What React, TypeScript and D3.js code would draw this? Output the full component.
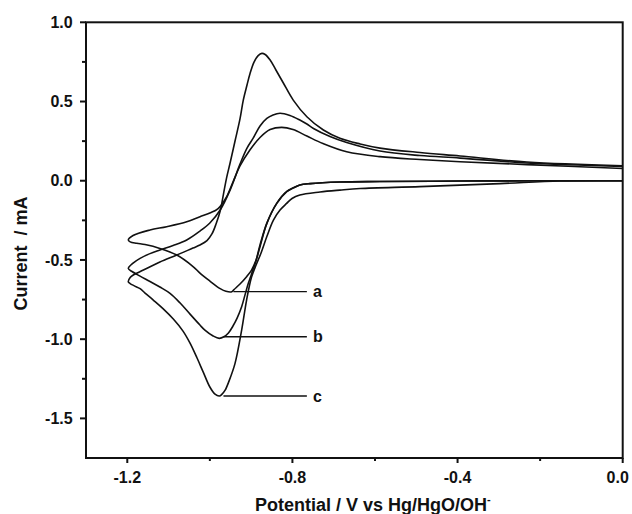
import React from "react";
import * as d3 from "d3";

// ---- Data ----
// Curve a : cathodic scan (0 -> -1.2 V) followed by anodic scan (-1.2 -> 0 V)
const potentialA = [0, -0.2, -0.394, -0.588, -0.685, -0.757, -0.782, -0.7985, -0.814, -0.838, -0.862, -0.8785, -0.888, -0.899, -0.911, -0.927, -0.9415, -0.947, -0.961, -0.975, -1.0, -1.024, -1.04, -1.08, -1.121, -1.157, -1.177, -1.193, -1.1975,
  -1.186, -1.145, -1.1045, -1.056, -1.024, -1.0, -0.98, -0.961, -0.944, -0.927, -0.903, -0.8785, -0.854, -0.826, -0.7985, -0.765, -0.726, -0.6685, -0.588, -0.491, -0.394, -0.232, 0];
const currentA = [0, 0, -0.002, -0.005, -0.008, -0.018, -0.027, -0.046, -0.069, -0.143, -0.269, -0.417, -0.501, -0.564, -0.606, -0.652, -0.687, -0.701, -0.698, -0.681, -0.633, -0.583, -0.543, -0.469, -0.427, -0.403, -0.395, -0.386, -0.374,
  -0.346, -0.311, -0.29, -0.259, -0.227, -0.204, -0.176, -0.109, -0.008, 0.093, 0.194, 0.273, 0.323, 0.337, 0.323, 0.282, 0.235, 0.183, 0.152, 0.134, 0.12, 0.102, 0.077];

// Curve b
const potentialB = [0, -0.2, -0.394, -0.588, -0.685, -0.757, -0.782, -0.7985, -0.814, -0.838, -0.862, -0.8785, -0.889, -0.896, -0.9015, -0.907, -0.915, -0.923, -0.934, -0.944, -0.955, -0.966, -0.977, -0.992, -1.012, -1.024, -1.048, -1.072, -1.0965, -1.121, -1.145, -1.169, -1.1885, -1.1975,
  -1.186, -1.169, -1.145, -1.121, -1.089, -1.056, -1.024, -1.0, -0.975, -0.951, -0.927, -0.91, -0.8947, -0.8785, -0.862, -0.847, -0.83, -0.806, -0.782, -0.765, -0.749, -0.709, -0.6685, -0.588, -0.491, -0.394, -0.232, 0];
const currentB = [0, 0, -0.002, -0.005, -0.008, -0.018, -0.027, -0.046, -0.069, -0.143, -0.269, -0.405, -0.513, -0.564, -0.608, -0.648, -0.722, -0.795, -0.867, -0.917, -0.961, -0.985, -0.995, -0.98, -0.943, -0.911, -0.842, -0.772, -0.711, -0.671, -0.636, -0.602, -0.573, -0.554,
  -0.52, -0.49, -0.46, -0.4375, -0.409, -0.374, -0.318, -0.267, -0.185, -0.059, 0.105, 0.206, 0.27, 0.345, 0.393, 0.415, 0.426, 0.412, 0.383, 0.358, 0.33, 0.279, 0.241, 0.1875, 0.159, 0.143, 0.112, 0.09];

// Curve c
const potentialC = [0, -0.152, -0.297, -0.491, -0.636, -0.685, -0.733, -0.782, -0.801, -0.814, -0.83, -0.846, -0.8615, -0.876, -0.888, -0.899, -0.911, -0.923, -0.939, -0.9536, -0.963, -0.9705, -0.977, -0.9875, -1.0, -1.016, -1.031, -1.048, -1.065, -1.0885, -1.1135, -1.137, -1.157, -1.169, -1.184, -1.193, -1.1975,
  -1.193, -1.1855, -1.161, -1.121, -1.08, -1.041, -1.024, -1.007, -0.995, -0.985, -0.975, -0.967, -0.9596, -0.951, -0.939, -0.927, -0.919, -0.91, -0.903, -0.893, -0.883, -0.874, -0.866, -0.854, -0.84, -0.822, -0.798, -0.765, -0.725, -0.685, -0.636, -0.588, -0.491, -0.394, -0.232, 0];
const currentC = [0, -0.002, -0.018, -0.037, -0.049, -0.059, -0.071, -0.09, -0.112, -0.143, -0.185, -0.248, -0.349, -0.456, -0.532, -0.608, -0.753, -0.943, -1.153, -1.265, -1.322, -1.347, -1.359, -1.347, -1.302, -1.208, -1.119, -1.025, -0.949, -0.873, -0.807, -0.753, -0.709, -0.681, -0.662, -0.649, -0.638,
  -0.611, -0.595, -0.564, -0.513, -0.469, -0.425, -0.406, -0.378, -0.336, -0.273, -0.191, -0.084, 0.017, 0.112, 0.251, 0.39, 0.509, 0.604, 0.674, 0.749, 0.79, 0.804, 0.797, 0.762, 0.699, 0.617, 0.509, 0.404, 0.32, 0.268, 0.232, 0.206, 0.178, 0.156, 0.118, 0.095];

// Curve labels (leader lines from the cathodic peaks)
const labelNames = ["a", "b", "c"];
const labelStartV = [-0.943, -0.967, -0.967];
const labelCurrent = [-0.70, -0.985, -1.359];
const labelEndV = -0.765;
const labelTextV = -0.75;

// Axis ticks
const xMajorTicks = [-1.2, -0.8, -0.4, 0.0];
const xMinorTicks = [-1.0, -0.6, -0.2];
const yMajorTicks = [1.0, 0.5, 0.0, -0.5, -1.0, -1.5];
const yMinorTicks = [0.75, 0.25, -0.25, -0.75, -1.25];

const xDomain = [-1.3, 0.0];
const yDomain = [-1.75, 1.0];

const FONT = "'Liberation Sans', Arial, Helvetica, sans-serif";

export default function App() {
  const W = 632, H = 514;
  const left = 86, right = 622.7, top = 22.3, bottom = 458;
  const x = d3.scaleLinear().domain(xDomain).range([left, right]);
  const y = d3.scaleLinear().domain(yDomain).range([bottom, top]);
  const fmt = (v: number) => d3.format(".1f")(v).replace("\u2212", "-");

  const line = d3
    .line<[number, number]>()
    .x((d) => x(d[0]))
    .y((d) => y(d[1]))
    .curve(d3.curveCatmullRom.alpha(0.5));

  const curves = [
    d3.zip(potentialA, currentA) as [number, number][],
    d3.zip(potentialB, currentB) as [number, number][],
    d3.zip(potentialC, currentC) as [number, number][],
  ];

  return (
    <svg
      width={W}
      height={H}
      style={{ position: "absolute", left: 0, top: 0, background: "#fff" }}
      fontFamily={FONT}
    >
      <rect x={0} y={0} width={W} height={H} fill="#fff" />
      {curves.map((c, i) => (
        <path key={i} d={line(c) || ""} fill="none" stroke="#111" strokeWidth={1.6} strokeLinejoin="round" />
      ))}

      {labelNames.map((n, i) => (
        <g key={n}>
          <line x1={x(labelStartV[i])} x2={x(labelEndV)} y1={y(labelCurrent[i])} y2={y(labelCurrent[i])} stroke="#111" strokeWidth={1.4} />
          <text x={x(labelTextV)} y={y(labelCurrent[i])} dy="0.35em" fontSize={16} fontWeight="bold" fill="#111">
            {n}
          </text>
        </g>
      ))}

      {/* frame */}
      <rect x={left} y={top} width={right - left} height={bottom - top} fill="none" stroke="#111" strokeWidth={2} />

      {/* x ticks */}
      {xMajorTicks.map((t) => (
        <g key={"xm" + t}>
          <line x1={x(t)} x2={x(t)} y1={bottom} y2={bottom + 5} stroke="#111" strokeWidth={2} />
          <text x={t === 0 ? x(t) - 5 : x(t)} y={483} textAnchor="middle" fontSize={16} fontWeight="bold" fill="#111">
            {fmt(t)}
          </text>
        </g>
      ))}
      {xMinorTicks.map((t) => (
        <line key={"xn" + t} x1={x(t)} x2={x(t)} y1={bottom} y2={bottom + 3} stroke="#111" strokeWidth={2} />
      ))}

      {/* y ticks */}
      {yMajorTicks.map((t) => (
        <g key={"ym" + t}>
          <line x1={left - 6} x2={left} y1={y(t)} y2={y(t)} stroke="#111" strokeWidth={2} />
          <text x={72.7} y={y(t)} dy="0.36em" textAnchor="end" fontSize={16} fontWeight="bold" fill="#111">
            {fmt(t)}
          </text>
        </g>
      ))}
      {yMinorTicks.map((t) => (
        <line key={"yn" + t} x1={left - 4} x2={left} y1={y(t)} y2={y(t)} stroke="#111" strokeWidth={2} />
      ))}

      {/* axis titles */}
      <text
        transform={`translate(21,253.5) rotate(-90)`}
        textAnchor="middle"
        dy="0.35em"
        fontSize={18}
        fontWeight="bold"
        fill="#111"
        style={{ whiteSpace: "pre" }}
      >
        {"Current  / mA"}
      </text>
      <text x={255} y={511} fontSize={18} fontWeight="bold" fill="#111">
        Potential / V vs Hg/HgO/OH
        <tspan fontSize={11} dy={-8}>
          -
        </tspan>
      </text>
    </svg>
  );
}
